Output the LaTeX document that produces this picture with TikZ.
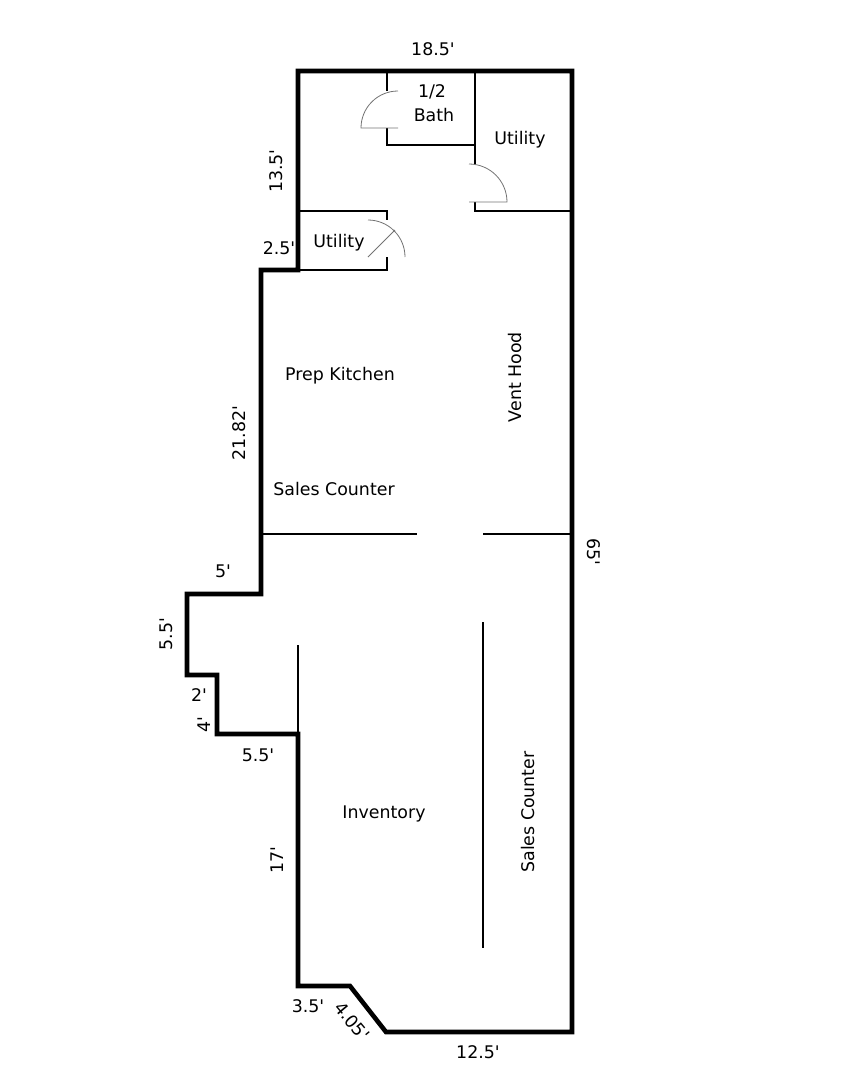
\documentclass[tikz,border=0pt]{standalone}
\usepackage{fontspec}
\setmainfont{DejaVu Sans}
\begin{document}
\begin{tikzpicture}[x=1pt,y=-1pt]

    \tikzset{
      wall/.style={line width=4.6pt,miter limit=10},
      partition/.style={line width=2.2pt},
      thinwall/.style={line width=1.5pt},
      door/.style={draw=black!55,line width=0.8pt},
      label/.style={font=\fontsize{17.4}{20}\selectfont,inner sep=0pt,anchor=center},
    }
    \useasboundingbox (0,0) rectangle (855,1080);

	% outer walls
	\draw[wall] (298,71)--(572,71)--(572,1032)--(386,1032)--(350,986)--(298,986)--(298,734)--(217,734)--(217,675)--(187,675)--(187,594)--(261,594)--(261,270)--(298,270)--cycle;

	% half bath
	\draw[partition] (387,71)--(387,91);
	\draw[partition] (387,128)--(387,145)--(475,145);
	\draw[door] (398,91) arc[start angle=-90,end angle=-180,radius=37]--(398,128);

	% right utility
	\draw[partition] (475,71)--(475,165);
	\draw[partition] (475,202)--(475,211)--(572,211);
	\draw[door] (469,164) arc[start angle=-90,end angle=0,radius=38]--(469,202);

	% left utility
	\draw[partition] (298,211)--(387,211)--(387,220);
	\draw[partition] (387,257)--(387,270)--(298,270);
	\draw[door] (368,220) arc[start angle=-90,end angle=0,radius=37];
	\draw[door] (368,257)--(395,230);

	% counters
	\draw[partition] (261,534)--(417,534);
	\draw[partition] (483,534)--(572,534);
	\draw[partition] (483,622)--(483,948);
	\draw[thinwall] (298,645)--(298,734);

	% room labels
	\node[label] (bathtop) at (432,92) {1/2};
	\node[label] (bath) at (434,115) {Bath};
	\node[label] (utilityright) at (520,140) {Utility};
	\node[label] (utilityleft) at (339,243) {Utility};
	\node[label] (prep) at (340,376) {Prep Kitchen};
	\node[label,rotate=90] (vent) at (515,377) {Vent Hood};
	\node[label] (salestop) at (334,489) {Sales Counter};
	\node[label] (inventory) at (384,814) {Inventory};
	\node[label,rotate=90] (salesbottom) at (528,812) {Sales Counter};

	% dimensions
	\node[label] (dimtop) at (433,49) {18.5\textquotesingle};
	\node[label,rotate=90] (dima) at (276,171) {13.5\textquotesingle};
	\node[label] (dimb) at (279,248) {2.5\textquotesingle};
	\node[label,rotate=90] (dimc) at (239,433) {21.82\textquotesingle};
	\node[label,rotate=-90] (dimright) at (594,552) {65\textquotesingle};
	\node[label] (dimd) at (223,571) {5\textquotesingle};
	\node[label,rotate=90] (dime) at (166,634) {5.5\textquotesingle};
	\node[label] (dimf) at (199,695) {2\textquotesingle};
	\node[label,rotate=90] (dimg) at (204,725) {4\textquotesingle};
	\node[label] (dimh) at (258,755) {5.5\textquotesingle};
	\node[label,rotate=90] (dimi) at (277,860) {17\textquotesingle};
	\node[label] (dimj) at (308,1006) {3.5\textquotesingle};
	\node[label,rotate=-50] (dimk) at (352,1021) {4.05\textquotesingle};
	\node[label] (diml) at (478,1052) {12.5\textquotesingle};

\end{tikzpicture}
\end{document}
